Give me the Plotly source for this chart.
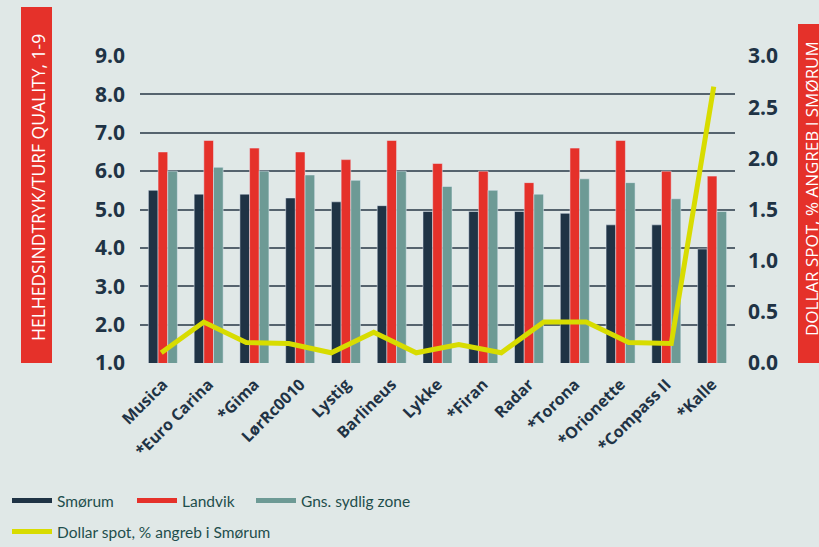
import plotly.graph_objects as go

categories = ["Musica", "*Euro Carina", "*Gima", "LørRc0010", "Lystig", "Barlineus",
              "Lykke", "*Firan", "Radar", "*Torona", "*Orionette", "*Compass II", "*Kalle"]
smorum = [5.5, 5.4, 5.4, 5.3, 5.2, 5.1, 4.95, 4.95, 4.95, 4.9, 4.6, 4.6, 3.97]
landvik = [6.5, 6.8, 6.6, 6.5, 6.3, 6.8, 6.2, 6.0, 5.7, 6.6, 6.8, 6.0, 5.87]
gns_sydlig = [6.0, 6.1, 6.0, 5.9, 5.76, 6.0, 5.6, 5.5, 5.4, 5.8, 5.7, 5.28, 4.95]
dollar_spot = [0.1, 0.4, 0.2, 0.19, 0.1, 0.3, 0.1, 0.18, 0.1, 0.4, 0.4, 0.2, 0.19, 2.7]
dollar_spot_pos = list(range(len(dollar_spot)))
left_ticks = [1, 2, 3, 4, 5, 6, 7, 8, 9]
right_ticks = [0, 0.5, 1.0, 1.5, 2.0, 2.5, 3.0]

NAVY = "#1f3345"
RED = "#e5312a"
TEAL = "#6d9a95"
YELLOW = "#d8dc00"
BG = "#e0e8e7"
LEG = "#1e4e4c"

W, H = 819, 547
L, R, T, B = 140, 84, 56, 184
pw, ph = W - L - R, H - T - B
def px(xp):
    return (xp - L) / pw
def py(yp):
    return (H - B - yp) / ph

fig = go.Figure()
fig.add_trace(go.Bar(x=categories, y=smorum, marker_color=NAVY, showlegend=False, name="Smørum"))
fig.add_trace(go.Bar(x=categories, y=landvik, marker_color=RED, showlegend=False, name="Landvik"))
fig.add_trace(go.Bar(x=categories, y=gns_sydlig, marker_color=TEAL, showlegend=False, name="Gns. sydlig zone"))
fig.add_trace(go.Scatter(x=dollar_spot_pos, y=dollar_spot, xaxis="x2", yaxis="y2", mode="lines",
                         line=dict(color=YELLOW, width=5), showlegend=False,
                         name="Dollar spot, % angreb i Smørum"))

# legend entries (line-style symbols), one legend box per entry
legend_items = [("Smørum", NAVY, "legend", 7, 501),
                ("Landvik", RED, "legend2", 132, 501),
                ("Gns. sydlig zone", TEAL, "legend3", 251, 501),
                ("Dollar spot, % angreb i Smørum", YELLOW, "legend4", 7, 532)]
legend_layout = {}
for nm, col, lg, lx, ly in legend_items:
    fig.add_trace(go.Scatter(x=[None], y=[None], mode="lines", name=nm,
                             line=dict(color=col, width=5), legend=lg))
    legend_layout[lg] = dict(orientation="h", x=px(lx), xanchor="left", y=py(ly), yanchor="middle",
                             font=dict(family="Lato", size=15.5, color=LEG),
                             bgcolor="rgba(0,0,0,0)", itemwidth=40)

fig.update_layout(
    width=W, height=H,
    margin=dict(l=L, r=R, t=T, b=B, autoexpand=False),
    paper_bgcolor=BG, plot_bgcolor=BG,
    barmode="group", bargap=0.366, bargroupgap=0,
    xaxis=dict(type="category", range=[-0.5, 12.5], tickangle=-45, showgrid=False,
               ticks="", ticklabelstandoff=8,
               tickfont=dict(family="Open Sans", size=16, color=NAVY, weight="bold"),
               showline=False, zeroline=False),
    xaxis2=dict(overlaying="x", range=[-0.5, 13.5], visible=False),
    yaxis=dict(range=[1, 9], tickvals=left_ticks, tickformat=".1f", showgrid=True,
               gridcolor="#55636e", gridwidth=2, zeroline=False, showline=False,
               ticks="", ticklabelstandoff=14,
               tickfont=dict(family="Open Sans", size=21, color=NAVY, weight="bold")),
    yaxis2=dict(range=[0, 3], tickvals=right_ticks, tickformat=".1f", overlaying="y",
                side="right", showgrid=False, zeroline=False, showline=False, ticks="",
                ticklabelstandoff=12,
                tickfont=dict(family="Open Sans", size=21, color=NAVY, weight="bold")),
    shapes=[
        dict(type="rect", xref="paper", yref="paper", x0=px(21), x1=px(52), y0=py(363), y1=py(7),
             fillcolor=RED, line=dict(width=0), layer="below"),
        dict(type="rect", xref="paper", yref="paper", x0=px(798), x1=px(840), y0=py(363), y1=py(24),
             fillcolor=RED, line=dict(width=0), layer="below"),
    ],
    annotations=[
        dict(text="HELHEDSINDTRYK/TURF QUALITY, 1-9", xref="paper", yref="paper",
             x=px(37.5), y=py(187.5), xanchor="center", yanchor="middle",
             textangle=-90, showarrow=False,
             font=dict(family="Open Sans", size=17.5, color="white", weight=500)),
        dict(text="DOLLAR SPOT, % ANGREB I SMØRUM", xref="paper", yref="paper",
             x=px(811), y=py(189), xanchor="center", yanchor="middle",
             textangle=-90, showarrow=False,
             font=dict(family="Open Sans", size=17, color="white", weight=500)),
    ],
    **legend_layout,
)

fig.write_html("out.html", config={"displayModeBar": False},
               post_script="document.body.style.margin='0';document.body.style.overflow='hidden';")
